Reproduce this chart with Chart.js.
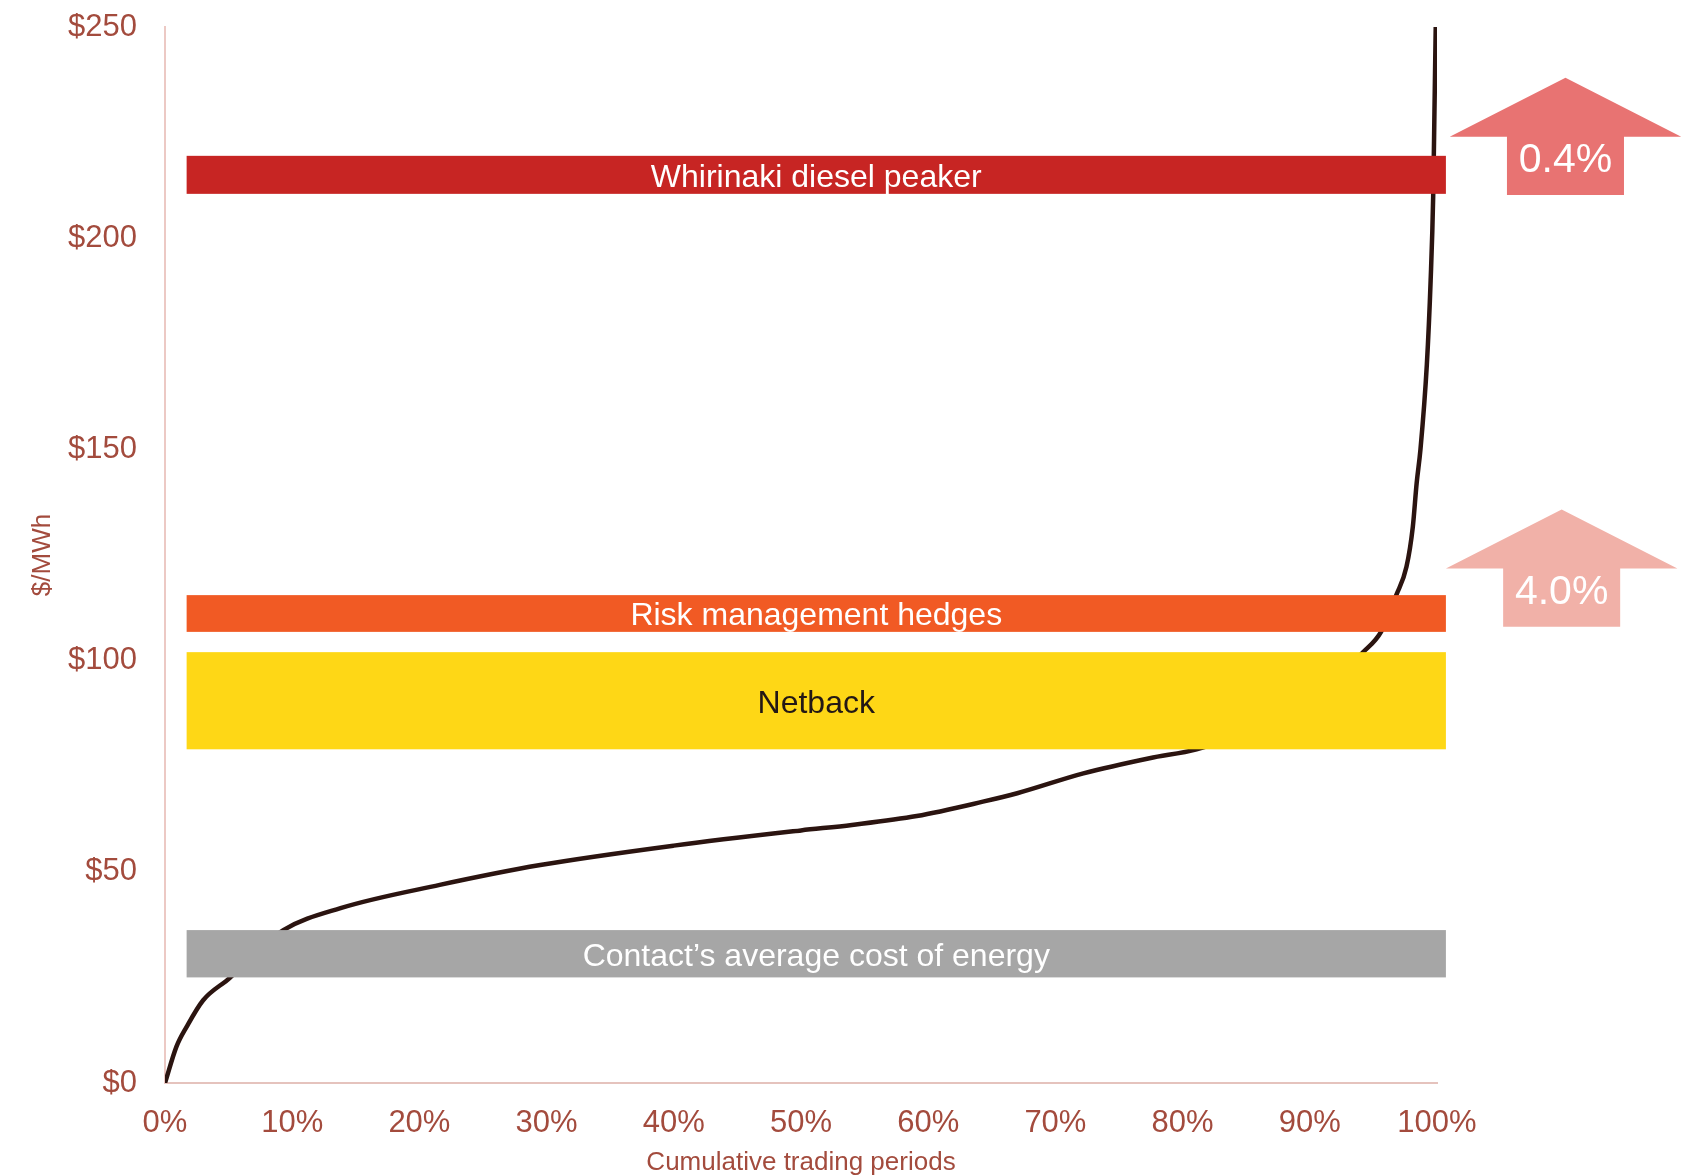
<!DOCTYPE html>
<html>
<head>
<meta charset="utf-8">
<script src="https://cdn.jsdelivr.net/npm/chart.js@4/dist/chart.umd.min.js"></script>
<style>
  html, body { margin: 0; padding: 0; background: #ffffff; }
  #wrap { width: 1691px; height: 1175px; }
</style>
</head>
<body>
<div id="wrap"><canvas id="priceCurve"></canvas></div>
<script>
// price duration curve
const periodPct = [0, 0.9, 1.7, 3.0, 5.1, 7.0, 9.3, 13.8, 21.6, 29.5, 40, 50, 54, 59.1, 64.3, 67, 72.2, 77.4, 81.1, 85, 90, 94.2, 95.6, 96.8, 97.6, 98.1, 98.4, 98.7, 99.2, 99.5, 99.7, 99.8, 99.9];
const spotPrice = [0, 8.6, 13.3, 19.6, 24.9, 30.5, 36.2, 41.4, 46.9, 51.6, 56.2, 59.8, 61.1, 63.2, 66.6, 68.6, 73.3, 76.9, 79.0, 83, 90, 102, 106.8, 115.5, 122.2, 131.7, 142, 150, 170, 190, 210, 230, 250];

// horizontal cost bands ($/MWh)
const bandNames = ['Whirinaki diesel peaker', 'Risk management hedges', 'Netback', 'Contact\u2019s average cost of energy'];
const bandLow = [210.5, 106.8, 79, 25];
const bandHigh = [219.5, 115.5, 102, 36.2];
const bandFrom = [1.7, 1.7, 1.7, 1.7];
const bandTo = [100.7, 100.7, 100.7, 100.7];

// share of trading periods above the band
const arrowLabels = ['0.4%', '4.0%'];
const arrowBase = [210.2, 108];

const xTicks = [0, 10, 20, 30, 40, 50, 60, 70, 80, 90, 100];
const yTicks = [0, 50, 100, 150, 200, 250];

const brown = '#a34b3d';
const bandColours = ['#c72523', '#f15a24', '#fed716', '#a6a6a6'];
const bandText = ['#ffffff', '#ffffff', '#231815', '#ffffff'];
const arrowColours = ['#e87372', '#f1b1a8'];

const bandsPlugin = {
  id: 'bands',
  afterDatasetsDraw(chart) {
    const ctx = chart.ctx;
    const x = chart.scales.x, y = chart.scales.y;
    ctx.save();
    ctx.font = '32px "Liberation Sans", Arial, sans-serif';
    ctx.textAlign = 'center';
    ctx.textBaseline = 'middle';
    bandNames.forEach((name, i) => {
      const x0 = x.getPixelForValue(bandFrom[i]);
      const x1 = x.getPixelForValue(bandTo[i]);
      const y0 = y.getPixelForValue(bandHigh[i]);
      const y1 = y.getPixelForValue(bandLow[i]);
      ctx.fillStyle = bandColours[i];
      ctx.fillRect(x0, y0, x1 - x0, y1 - y0);
      ctx.fillStyle = bandText[i];
      ctx.fillText(name, (x0 + x1) / 2, (y0 + y1) / 2 + 3);
    });
    ctx.restore();
  },
  afterDraw(chart) {
    const ctx = chart.ctx;
    const x = chart.scales.x, y = chart.scales.y;
    // arrow shape in data units, relative to its base
    const centres = [110.1, 109.8];
    const wingHalf = 9.1, shaftHalf = 4.6, shaftH = 13.8, headH = 14;
    ctx.save();
    arrowLabels.forEach((lab, i) => {
      const cx = x.getPixelForValue(centres[i]);
      const yb = y.getPixelForValue(arrowBase[i]);
      const yw = y.getPixelForValue(arrowBase[i] + shaftH);
      const yt = y.getPixelForValue(arrowBase[i] + shaftH + headH);
      const sw = x.getPixelForValue(centres[i] + shaftHalf) - cx;
      const ww = x.getPixelForValue(centres[i] + wingHalf) - cx;
      ctx.fillStyle = arrowColours[i];
      ctx.beginPath();
      ctx.moveTo(cx - sw, yb);
      ctx.lineTo(cx - sw, yw);
      ctx.lineTo(cx - ww, yw);
      ctx.lineTo(cx, yt);
      ctx.lineTo(cx + ww, yw);
      ctx.lineTo(cx + sw, yw);
      ctx.lineTo(cx + sw, yb);
      ctx.closePath();
      ctx.fill();
      ctx.fillStyle = '#ffffff';
      ctx.font = '41px "Liberation Sans", Arial, sans-serif';
      ctx.textAlign = 'center';
      ctx.textBaseline = 'middle';
      ctx.fillText(lab, cx, yw + (yb - yw) / 2 - 5);
    });
    ctx.restore();
  }
};

const curveData = periodPct.map((p, i) => ({ x: p, y: spotPrice[i] }));

const config = {
  type: 'line',
  data: {
    datasets: [{
      label: 'Spot price',
      data: curveData,
      borderColor: '#2b1410',
      borderWidth: 4.5,
      pointRadius: 0,
      cubicInterpolationMode: 'monotone',
      fill: false
    }]
  },
  options: {
    responsive: true,
    maintainAspectRatio: false,
    animation: false,
    layout: { padding: { top: 27, right: 254, bottom: 0, left: 0 } },
    plugins: {
      legend: { display: false },
      tooltip: { enabled: false }
    },
    scales: {
      x: {
        type: 'linear',
        min: 0,
        max: 100,
        afterBuildTicks: s => { s.ticks = xTicks.map(v => ({ value: v })); },
        afterFit: s => { s.height = 92; },
        grid: { display: false, drawTicks: false },
        border: { display: true, color: '#e5c3bd', width: 2 },
        ticks: {
          padding: 22,
          color: brown,
          font: { family: '"Liberation Sans", Arial', size: 31 },
          callback: v => v + '%'
        },
        title: {
          display: true,
          text: 'Cumulative trading periods',
          color: brown,
          font: { family: '"Liberation Sans", Arial', size: 26, lineHeight: 0.9 },
          padding: { top: 0, bottom: 0 }
        }
      },
      y: {
        min: 0,
        max: 250,
        afterBuildTicks: s => { s.ticks = yTicks.map(v => ({ value: v })); },
        afterFit: s => { s.width = 165; s.paddingTop = 0; s.paddingBottom = 0; },
        grid: { display: false, drawTicks: false },
        border: { display: true, color: '#ecc9c4', width: 2 },
        ticks: {
          padding: 28,
          color: brown,
          font: { family: '"Liberation Sans", Arial', size: 31 },
          callback: v => '$' + v
        },
        title: {
          display: true,
          text: '$/MWh',
          color: brown,
          font: { family: '"Liberation Sans", Arial', size: 26 },
          padding: { top: 27, bottom: 0 }
        }
      }
    }
  },
  plugins: [bandsPlugin]
};

const priceChart = new Chart(document.getElementById('priceCurve'), config);
</script>
</body>
</html>
